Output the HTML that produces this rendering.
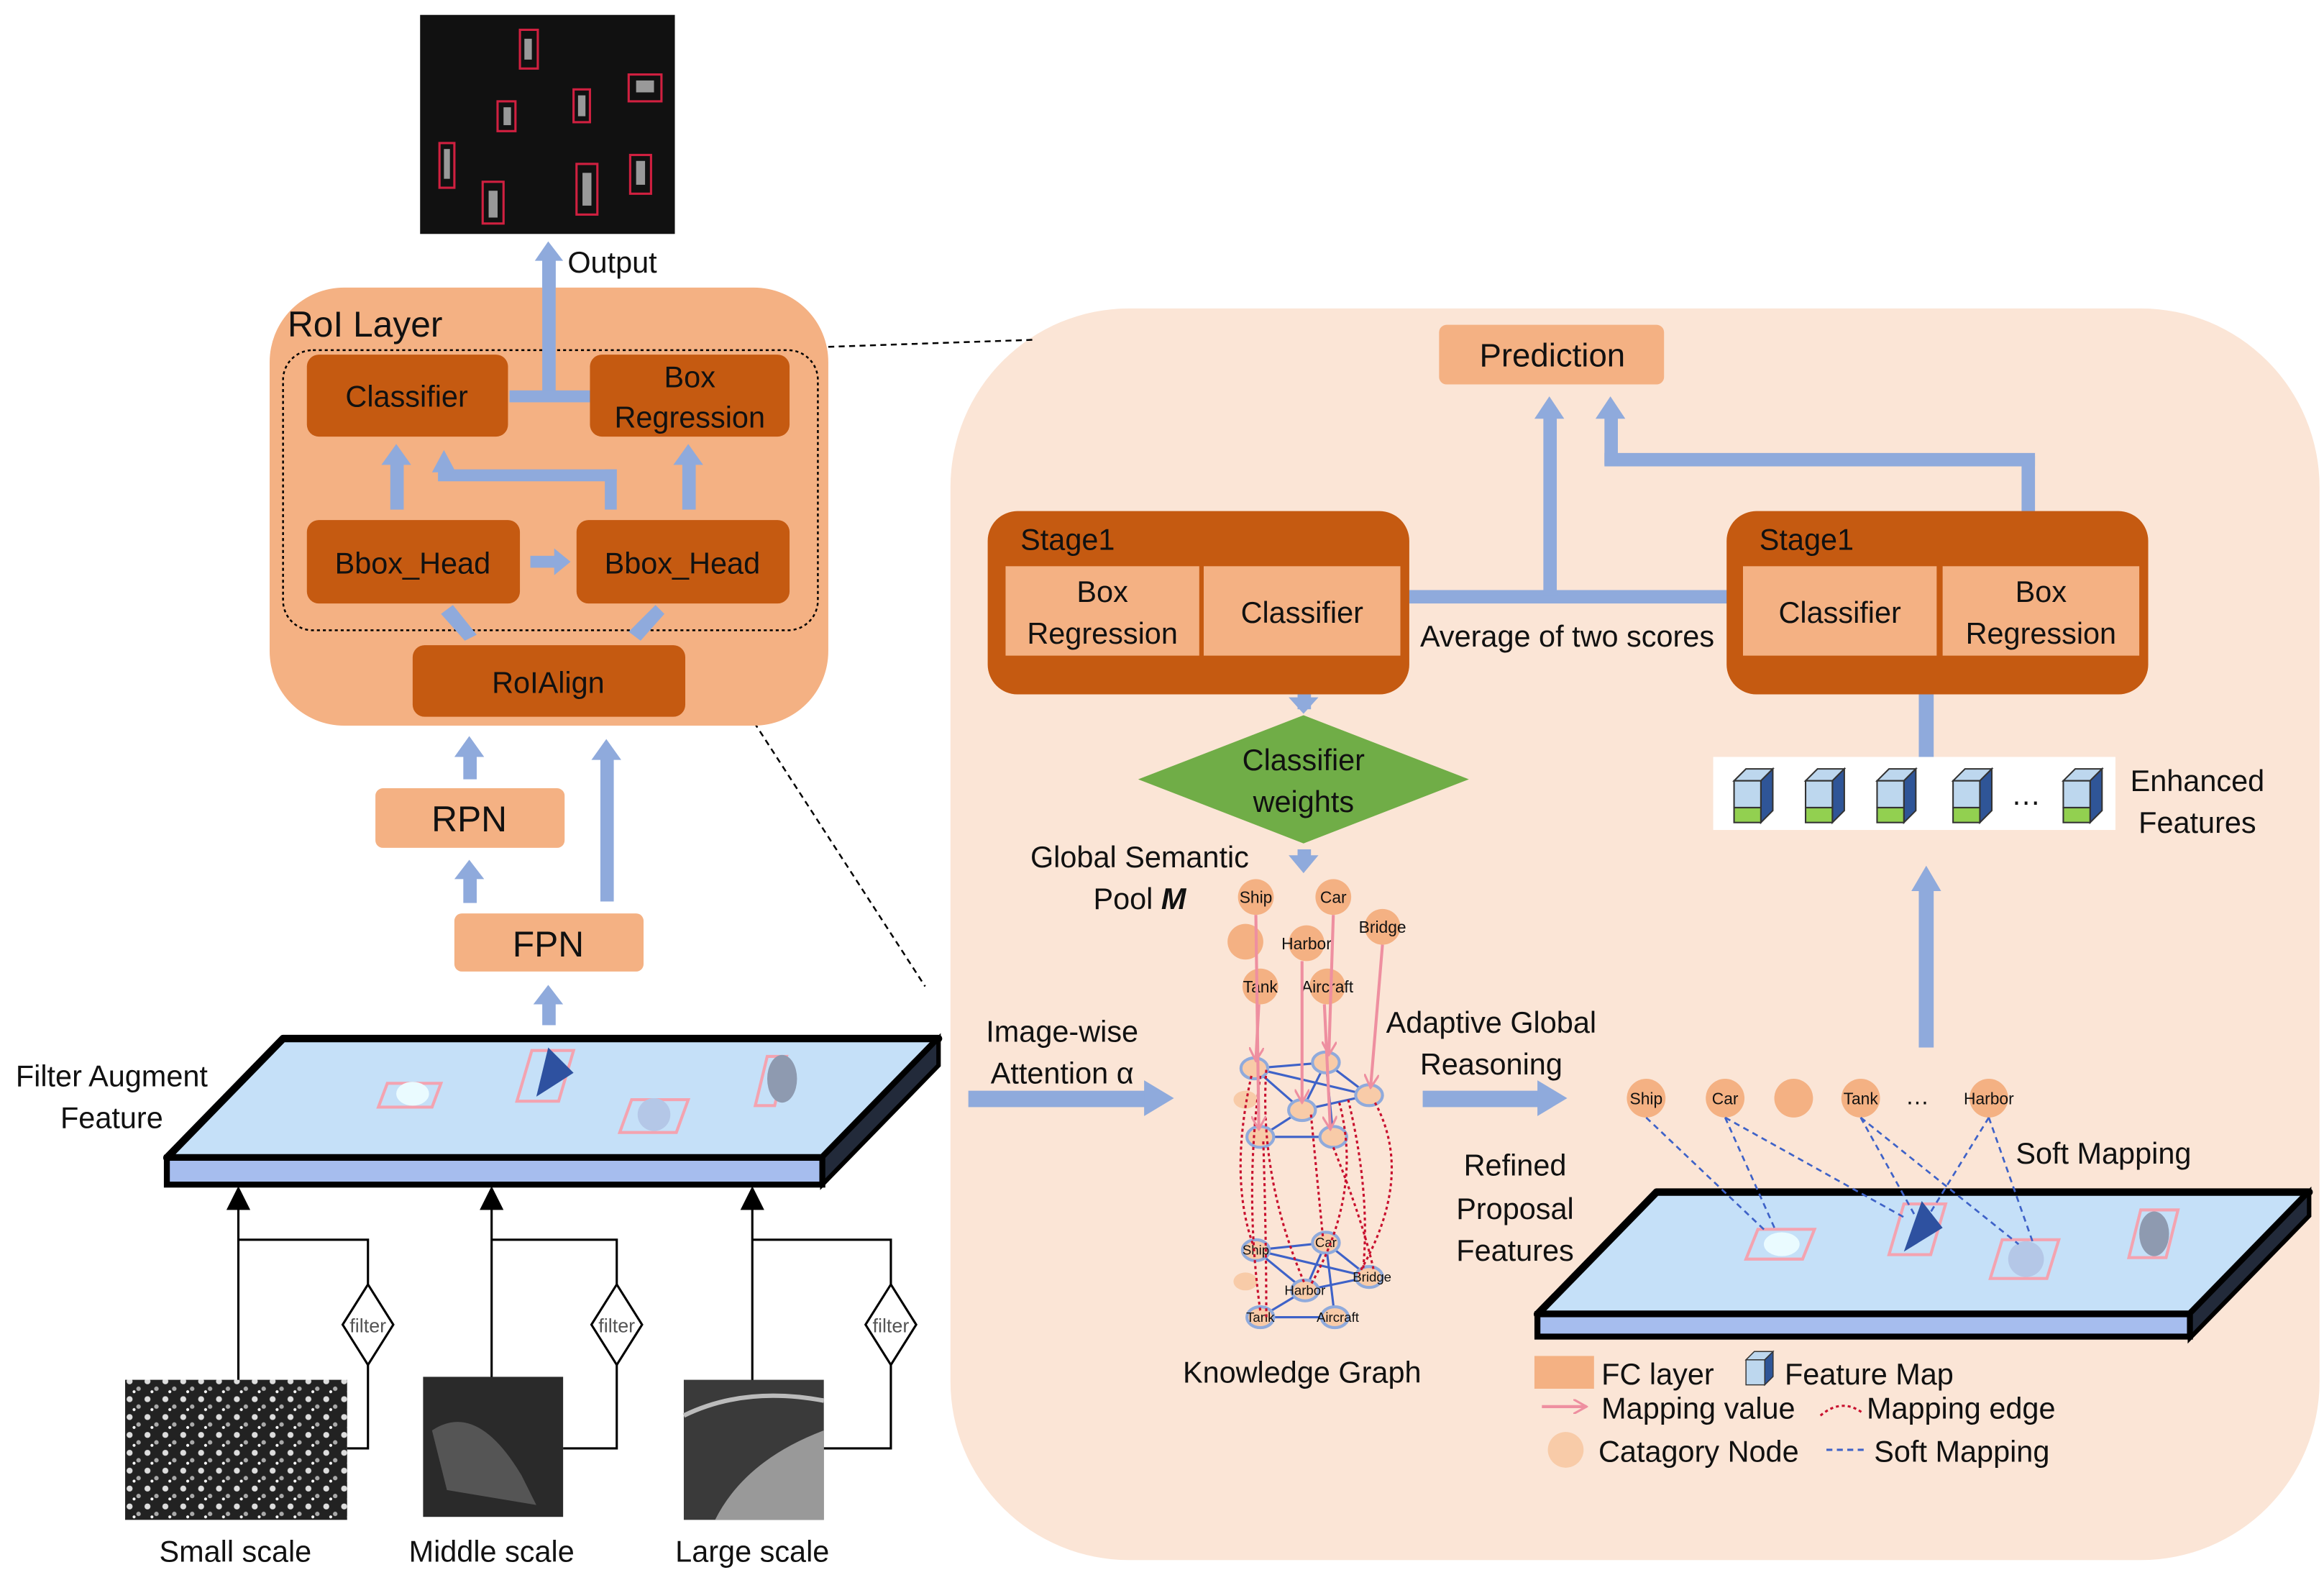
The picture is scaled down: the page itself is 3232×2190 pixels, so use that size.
<!DOCTYPE html>
<html><head><meta charset="utf-8"><style>html,body{margin:0;padding:0;background:#fff}svg{display:block}text{font-family:"Liberation Sans",sans-serif;fill:#111}</style></head><body>
<svg width="3232" height="2190" viewBox="0 0 1560 1057" preserveAspectRatio="none" xmlns="http://www.w3.org/2000/svg">
<defs>
<marker id="bk" markerWidth="6" markerHeight="6" refX="3" refY="3" orient="auto" markerUnits="userSpaceOnUse"><path d="M0,0 L6,3 L0,6z" fill="#000"/></marker>
<marker id="pk" markerWidth="10" markerHeight="10" refX="9" refY="5" orient="auto" markerUnits="userSpaceOnUse"><path d="M0,0 L9,5 L0,10" fill="none" stroke="#ee8fa0" stroke-width="1.5"/></marker>
<pattern id="spk" width="12" height="12" patternUnits="userSpaceOnUse"><rect width="12" height="12" fill="#222"/><circle cx="3" cy="3" r="2" fill="#ddd"/><circle cx="9" cy="8" r="1.5" fill="#aaa"/><circle cx="6" cy="10" r="1" fill="#fff"/></pattern>
<g id="cube"><path d="M0,8 L8,0 L26,0 L18,8z" fill="#bdd7ee" stroke="#333" stroke-width="1"/><path d="M18,8 L26,0 L26,28 L18,36z" fill="#2f5597" stroke="#333" stroke-width="1"/><rect x="0" y="8" width="18" height="18" fill="#bdd7ee" stroke="#333" stroke-width="1"/><rect x="0" y="26" width="18" height="10" fill="#92d050" stroke="#333" stroke-width="1"/></g>
</defs>
<rect width="1560" height="1057" fill="#fff"/>
<!-- right panel -->
<rect x="638" y="207" width="919" height="840" rx="120" fill="#fbe5d6"/>
<line x1="549" y1="233" x2="695" y2="228" stroke="#000" stroke-dasharray="4,3" stroke-width="1.2"/>
<line x1="472" y1="432" x2="621" y2="662" stroke="#000" stroke-dasharray="4,3" stroke-width="1.2"/>
<!-- output image -->
<rect x="282" y="10" width="171" height="147" fill="#111"/>
<g fill="none" stroke="#d02040" stroke-width="1.5">
<rect x="349" y="20" width="12" height="26"/><rect x="334" y="68" width="12" height="20"/><rect x="385" y="60" width="11" height="22"/><rect x="422" y="50" width="22" height="18"/><rect x="295" y="96" width="10" height="30"/><rect x="324" y="122" width="14" height="28"/><rect x="387" y="110" width="14" height="34"/><rect x="423" y="104" width="14" height="26"/></g>
<g fill="#999"><rect x="352" y="26" width="5" height="14"/><rect x="338" y="72" width="5" height="12"/><rect x="388" y="64" width="5" height="14"/><rect x="427" y="54" width="12" height="8"/><rect x="298" y="100" width="4" height="20"/><rect x="328" y="128" width="6" height="18"/><rect x="391" y="116" width="6" height="22"/><rect x="427" y="108" width="6" height="16"/></g>
<text x="381" y="183" font-size="20">Output</text>
<rect x="364" y="172" width="9" height="93" fill="#8faadc"/>
<path d="M359,175 L368,162 L378,175z" fill="#8faadc"/>
<!-- RoI layer -->
<rect x="181" y="193" width="375" height="294" rx="50" fill="#f4b183"/>
<text x="193" y="226" font-size="24">RoI Layer</text>
<rect x="190" y="235" width="359" height="188" rx="20" fill="none" stroke="#000" stroke-dasharray="2,2" stroke-width="1.2"/>
<rect x="364" y="172" width="9" height="93" fill="#8faadc"/>
<rect x="342" y="262" width="56" height="8" fill="#8faadc"/>
<g fill="#c55a11"><rect x="206" y="238" width="135" height="55" rx="8"/><rect x="396" y="238" width="134" height="55" rx="8"/><rect x="206" y="349" width="143" height="56" rx="8"/><rect x="387" y="349" width="143" height="56" rx="8"/><rect x="277" y="433" width="183" height="48" rx="8"/></g>
<g font-size="20" text-anchor="middle"><text x="273" y="273">Classifier</text><text x="463" y="260">Box</text><text x="463" y="287">Regression</text><text x="277" y="385">Bbox_Head</text><text x="458" y="385">Bbox_Head</text><text x="368" y="465">RoIAlign</text></g>
<g fill="#8faadc"><rect x="262" y="310" width="9" height="32"/><path d="M256,312 L266,298 L276,312z"/><rect x="458" y="310" width="9" height="32"/><path d="M452,312 L462,298 L472,312z"/><rect x="294" y="315" width="120" height="8"/><rect x="406" y="315" width="8" height="27"/><path d="M290,317 L298,302 L306,317z"/><rect x="356" y="373" width="18" height="8"/><path d="M372,368 L383,377 L372,386z"/>
<path d="M296,412 L304,406 L320,426 L312,430z"/><path d="M440,406 L446,412 L430,430 L422,424z"/></g>
<!-- RPN FPN -->
<rect x="252" y="529" width="127" height="40" rx="5" fill="#f4b183"/><text x="315" y="558" font-size="24" text-anchor="middle">RPN</text>
<rect x="305" y="613" width="127" height="39" rx="5" fill="#f4b183"/><text x="368" y="642" font-size="24" text-anchor="middle">FPN</text>
<g fill="#8faadc"><rect x="311" y="505" width="9" height="18"/><path d="M305,508 L315,494 L325,508z"/><rect x="311" y="588" width="9" height="18"/><path d="M305,590 L315,577 L325,590z"/><rect x="403" y="507" width="9" height="98"/><path d="M397,510 L407,496 L417,510z"/><rect x="364" y="672" width="9" height="16"/><path d="M358,674 L368,661 L378,674z"/></g>
<!-- left slab -->
<path d="M112,777 L190,697 L630,697 L552,777z" fill="#c5e0f8" stroke="#000" stroke-width="5" stroke-linejoin="round"/>
<path d="M552,777 L630,697 L630,715 L552,795z" fill="#222a3a" stroke="#000" stroke-width="3"/>
<rect x="112" y="777" width="440" height="18" fill="#a6bdee" stroke="#000" stroke-width="4"/>
<path d="M260,727 L296,727 L290,743 L254,743z" fill="none" stroke="#f4a3b0" stroke-width="2"/><ellipse cx="277" cy="734" rx="11" ry="8" fill="#eafbff"/>
<path d="M357,705 L385,705 L375,739 L347,739z" fill="none" stroke="#f4a3b0" stroke-width="2"/><path d="M368,703 L385,720 L360,736z" fill="#2e51a0"/>
<path d="M424,738 L462,738 L454,760 L416,760z" fill="none" stroke="#f4a3b0" stroke-width="2"/><circle cx="439" cy="748" r="11" fill="#b4c7e7"/>
<path d="M515,709 L528,709 L520,742 L507,742z" fill="none" stroke="#f4a3b0" stroke-width="2"/><ellipse cx="525" cy="724" rx="10" ry="16" fill="#8e9ab0"/>
<text x="75" y="729" font-size="20" text-anchor="middle">Filter Augment</text><text x="75" y="757" font-size="20" text-anchor="middle">Feature</text>
<!-- scale inputs -->
<g stroke="#000" stroke-width="1.5" fill="none"><line x1="160" y1="928" x2="160" y2="806" marker-end="url(#bk)"/><polyline points="160,832 247,832 247,862"/><polyline points="247,916 247,972 233,972"/>
<line x1="330" y1="926" x2="330" y2="806" marker-end="url(#bk)"/><polyline points="330,832 414,832 414,862"/><polyline points="414,916 414,972 378,972"/>
<line x1="505" y1="928" x2="505" y2="806" marker-end="url(#bk)"/><polyline points="505,832 598,832 598,862"/><polyline points="598,916 598,972 553,972"/></g>
<g fill="#000"><path d="M152,812 L160,796 L168,812z"/><path d="M322,812 L330,796 L338,812z"/><path d="M497,812 L505,796 L513,812z"/></g>
<g fill="#fff" stroke="#000" stroke-width="1.5"><path d="M247,862 L264,889 L247,916 L230,889z"/><path d="M414,862 L431,889 L414,916 L397,889z"/><path d="M598,862 L615,889 L598,916 L581,889z"/></g>
<g font-size="13" text-anchor="middle" fill="#555"><text x="247" y="894" style="fill:#555">filter</text><text x="414" y="894" style="fill:#555">filter</text><text x="598" y="894" style="fill:#555">filter</text></g>
<rect x="84" y="926" width="149" height="94" fill="url(#spk)"/>
<rect x="284" y="924" width="94" height="94" fill="#2a2a2a"/><path d="M290,960 Q320,940 350,990 L360,1010 L300,1000z" fill="#555"/>
<rect x="459" y="926" width="94" height="94" fill="#3a3a3a"/><path d="M480,1020 Q500,980 553,960 L553,1020z" fill="#999"/><path d="M459,950 Q500,930 553,940" stroke="#bbb" stroke-width="3" fill="none"/>
<g font-size="20" text-anchor="middle"><text x="158" y="1048">Small scale</text><text x="330" y="1048">Middle scale</text><text x="505" y="1048">Large scale</text></g>
<!-- Prediction and stages -->
<rect x="966" y="218" width="151" height="40" rx="5" fill="#f4b183"/><text x="1042" y="246" font-size="22" text-anchor="middle">Prediction</text>
<g fill="#8faadc"><rect x="944" y="396" width="220" height="9"/><rect x="1036" y="278" width="9" height="122"/><path d="M1030,281 L1040,266 L1050,281z"/><rect x="1357" y="306" width="9" height="40"/><rect x="1077" y="304" width="289" height="9"/><rect x="1077" y="278" width="9" height="34"/><path d="M1071,281 L1081,266 L1091,281z"/></g>
<rect x="663" y="343" width="283" height="123" rx="20" fill="#c55a11"/>
<rect x="1159" y="343" width="283" height="123" rx="20" fill="#c55a11"/>
<g fill="#f4b183"><rect x="675" y="380" width="130" height="60"/><rect x="808" y="380" width="132" height="60"/><rect x="1170" y="380" width="130" height="60"/><rect x="1304" y="380" width="132" height="60"/></g>
<g font-size="20"><text x="685" y="369">Stage1</text><text x="1181" y="369">Stage1</text></g>
<g font-size="20" text-anchor="middle"><text x="740" y="404">Box</text><text x="740" y="432">Regression</text><text x="874" y="418">Classifier</text><text x="1235" y="418">Classifier</text><text x="1370" y="404">Box</text><text x="1370" y="432">Regression</text><text x="1052" y="434">Average of two scores</text></g>
<!-- classifier weights -->
<g fill="#8faadc"><rect x="871" y="466" width="9" height="10"/><path d="M865,468 L875,479 L885,468z"/><rect x="871" y="570" width="9" height="8"/><path d="M865,574 L875,586 L885,574z"/></g>
<path d="M875,480 L986,523 L875,566 L764,523z" fill="#70ad47"/>
<text x="875" y="517" font-size="20" text-anchor="middle">Classifier</text><text x="875" y="545" font-size="20" text-anchor="middle">weights</text>
<text x="765" y="582" font-size="20" text-anchor="middle">Global Semantic</text>
<text x="765" y="610" font-size="20" text-anchor="middle">Pool <tspan font-weight="bold" font-style="italic">M</tspan></text>
<!-- knowledge graph -->
<g fill="#f4b183"><circle cx="843" cy="602" r="12"/><circle cx="895" cy="602" r="12"/><circle cx="928" cy="622" r="12"/><circle cx="836" cy="632" r="12"/><circle cx="877" cy="633" r="12"/><circle cx="846" cy="662" r="12"/><circle cx="891" cy="662" r="12"/></g>
<g font-size="11" text-anchor="middle"><text x="843" y="606">Ship</text><text x="895" y="606">Car</text><text x="928" y="626">Bridge</text><text x="877" y="637">Harbor</text><text x="846" y="666">Tank</text><text x="891" y="666">Aircraft</text></g>
<g stroke="#3e62c8" stroke-width="1.5"><line x1="842" y1="717" x2="890" y2="713"/><line x1="842" y1="717" x2="874" y2="745"/><line x1="842" y1="717" x2="919" y2="735"/><line x1="890" y1="713" x2="874" y2="745"/><line x1="890" y1="713" x2="919" y2="735"/><line x1="874" y1="745" x2="919" y2="735"/><line x1="874" y1="745" x2="846" y2="763"/><line x1="846" y1="763" x2="895" y2="763"/><line x1="890" y1="713" x2="895" y2="763"/>
<line x1="843" y1="839" x2="890" y2="834"/><line x1="843" y1="839" x2="876" y2="866"/><line x1="843" y1="839" x2="919" y2="857"/><line x1="890" y1="834" x2="876" y2="866"/><line x1="890" y1="834" x2="919" y2="857"/><line x1="876" y1="866" x2="919" y2="857"/><line x1="876" y1="866" x2="846" y2="884"/><line x1="846" y1="884" x2="896" y2="884"/><line x1="890" y1="834" x2="896" y2="884"/></g>
<g fill="#f8cba8" stroke="#8faadc" stroke-width="2"><ellipse cx="842" cy="717" rx="9" ry="7"/><ellipse cx="890" cy="713" rx="9" ry="7"/><ellipse cx="919" cy="735" rx="9" ry="7"/><ellipse cx="874" cy="745" rx="9" ry="7"/><ellipse cx="846" cy="763" rx="9" ry="7"/><ellipse cx="895" cy="763" rx="9" ry="7"/>
<ellipse cx="843" cy="839" rx="9" ry="7"/><ellipse cx="890" cy="834" rx="9" ry="7"/><ellipse cx="919" cy="857" rx="9" ry="7"/><ellipse cx="876" cy="866" rx="9" ry="7"/><ellipse cx="846" cy="884" rx="9" ry="7"/><ellipse cx="896" cy="884" rx="9" ry="7"/></g>
<ellipse cx="836" cy="738" rx="8" ry="6" fill="#f8cba8"/><ellipse cx="836" cy="860" rx="8" ry="6" fill="#f8cba8"/>
<g font-size="9" text-anchor="middle"><text x="843" y="842">Ship</text><text x="890" y="837">Car</text><text x="921" y="860">Bridge</text><text x="876" y="869">Harbor</text><text x="846" y="887">Tank</text><text x="898" y="887">Aircraft</text></g>
<g fill="none" stroke="#c8102e" stroke-width="1.5" stroke-dasharray="2,2"><path d="M840,722 Q825,790 841,835"/><path d="M846,722 Q835,800 846,880"/><path d="M850,718 Q845,790 876,862"/><path d="M848,766 Q850,830 850,884"/><path d="M880,748 Q885,800 888,830"/><path d="M899,740 Q915,800 880,862"/><path d="M905,738 Q920,800 915,852"/><path d="M923,740 Q950,790 912,855"/><path d="M895,770 Q915,820 922,852"/></g>
<g stroke="#ee8fa0" stroke-width="2" fill="none"><line x1="843" y1="614" x2="845" y2="758" marker-end="url(#pk)"/><line x1="895" y1="614" x2="892" y2="708" marker-end="url(#pk)"/><line x1="928" y1="634" x2="920" y2="730" marker-end="url(#pk)"/><line x1="874" y1="645" x2="874" y2="740" marker-end="url(#pk)"/><line x1="845" y1="674" x2="843" y2="712" marker-end="url(#pk)"/><line x1="889" y1="674" x2="893" y2="758" marker-end="url(#pk)"/></g>
<text x="874" y="928" font-size="20" text-anchor="middle">Knowledge Graph</text>
<!-- attention arrows -->
<text x="713" y="699" font-size="20" text-anchor="middle">Image-wise</text><text x="713" y="727" font-size="20" text-anchor="middle">Attention α</text>
<g fill="#8faadc"><rect x="650" y="732" width="120" height="11"/><path d="M768,725 L788,737 L768,749z"/><rect x="955" y="732" width="78" height="11"/><path d="M1032,725 L1052,737 L1032,749z"/><rect x="1288" y="595" width="10" height="108"/><path d="M1283,598 L1293,581 L1303,598z"/><rect x="1288" y="466" width="10" height="42"/></g>
<text x="1001" y="693" font-size="20" text-anchor="middle">Adaptive Global</text><text x="1001" y="721" font-size="20" text-anchor="middle">Reasoning</text>
<!-- enhanced features -->
<rect x="1150" y="508" width="270" height="49" fill="#fff"/>
<use href="#cube" x="1164" y="516"/><use href="#cube" x="1212" y="516"/><use href="#cube" x="1260" y="516"/><use href="#cube" x="1311" y="516"/><use href="#cube" x="1385" y="516"/>
<text x="1360" y="540" font-size="20" text-anchor="middle">…</text>
<text x="1475" y="531" font-size="20" text-anchor="middle">Enhanced</text><text x="1475" y="559" font-size="20" text-anchor="middle">Features</text>
<!-- soft mapping row -->
<g fill="#f4b183"><circle cx="1105" cy="737" r="13"/><circle cx="1158" cy="737" r="13"/><circle cx="1204" cy="737" r="13"/><circle cx="1249" cy="737" r="13"/><circle cx="1335" cy="737" r="13"/></g>
<g font-size="11" text-anchor="middle"><text x="1105" y="741">Ship</text><text x="1158" y="741">Car</text><text x="1249" y="741">Tank</text><text x="1335" y="741">Harbor</text><text x="1287" y="741" font-size="16">…</text></g>
<text x="1412" y="781" font-size="20" text-anchor="middle">Soft Mapping</text>
<text x="1017" y="789" font-size="20" text-anchor="middle">Refined</text><text x="1017" y="818" font-size="20" text-anchor="middle">Proposal</text><text x="1017" y="846" font-size="20" text-anchor="middle">Features</text>
<path d="M1032,882 L1112,800 L1550,800 L1470,882z" fill="#c5e0f8" stroke="#000" stroke-width="5" stroke-linejoin="round"/>
<path d="M1470,882 L1550,800 L1550,816 L1470,898z" fill="#222a3a" stroke="#000" stroke-width="3"/>
<rect x="1032" y="882" width="438" height="15" fill="#a6bdee" stroke="#000" stroke-width="4"/>
<path d="M1180,825 L1218,825 L1210,845 L1172,845z" fill="none" stroke="#f4a3b0" stroke-width="2"/><ellipse cx="1196" cy="835" rx="12" ry="8" fill="#eafbff"/>
<path d="M1278,808 L1306,808 L1296,842 L1268,842z" fill="none" stroke="#f4a3b0" stroke-width="2"/><path d="M1290,806 L1304,824 L1278,840z" fill="#2e51a0"/>
<path d="M1344,832 L1382,832 L1374,858 L1336,858z" fill="none" stroke="#f4a3b0" stroke-width="2"/><circle cx="1360" cy="845" r="12" fill="#b4c7e7"/>
<path d="M1437,812 L1462,812 L1454,844 L1429,844z" fill="none" stroke="#f4a3b0" stroke-width="2"/><ellipse cx="1446" cy="828" rx="10" ry="15" fill="#8e9ab0"/>
<g stroke="#3e62c8" stroke-width="1.3" stroke-dasharray="4,3"><line x1="1105" y1="750" x2="1185" y2="826"/><line x1="1158" y1="750" x2="1192" y2="826"/><line x1="1158" y1="750" x2="1280" y2="818"/><line x1="1249" y1="750" x2="1285" y2="815"/><line x1="1249" y1="750" x2="1355" y2="835"/><line x1="1335" y1="750" x2="1295" y2="815"/><line x1="1335" y1="750" x2="1365" y2="835"/></g>
<!-- legend -->
<rect x="1030" y="910" width="40" height="22" fill="#f4b183"/><text x="1075" y="929" font-size="20">FC layer</text>
<g transform="translate(1172,907) scale(0.7)"><path d="M0,8 L8,0 L26,0 L18,8z" fill="#bdd7ee" stroke="#333"/><path d="M18,8 L26,0 L26,24 L18,32z" fill="#2f5597" stroke="#333"/><rect x="0" y="8" width="18" height="24" fill="#bdd7ee" stroke="#333"/></g>
<text x="1198" y="929" font-size="20">Feature Map</text>
<line x1="1035" y1="944" x2="1065" y2="944" stroke="#ee8fa0" stroke-width="2" marker-end="url(#pk)"/><text x="1075" y="952" font-size="20">Mapping value</text>
<path d="M1222,950 Q1236,938 1250,948" fill="none" stroke="#c8102e" stroke-width="1.5" stroke-dasharray="2,2"/><text x="1253" y="952" font-size="20">Mapping edge</text>
<circle cx="1051" cy="973" r="12" fill="#f8cba8"/><text x="1073" y="981" font-size="20">Catagory Node</text>
<line x1="1226" y1="973" x2="1254" y2="973" stroke="#3e62c8" stroke-width="1.5" stroke-dasharray="4,3"/><text x="1258" y="981" font-size="20">Soft Mapping</text>
</svg>
</body></html>
